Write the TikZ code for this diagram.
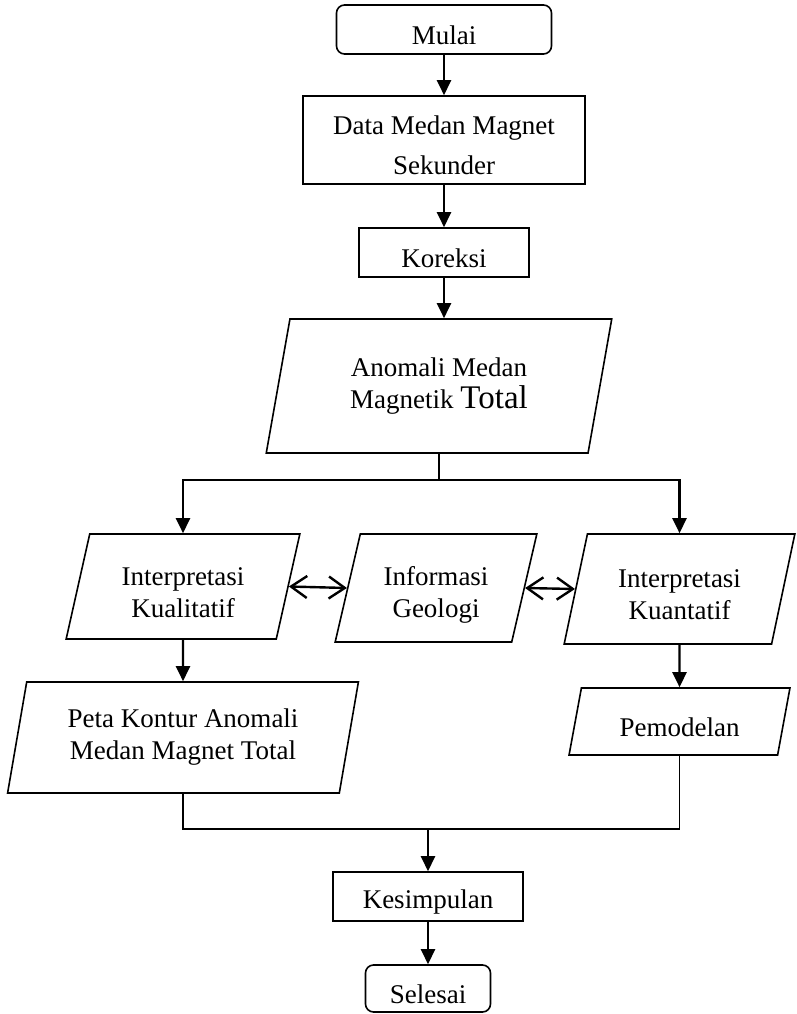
\documentclass[tikz,border=0pt]{standalone}
\usepackage{fontspec}
\setmainfont{Liberation Serif}
\usetikzlibrary{shapes.geometric,arrows.meta}
\tikzset{>={Triangle[length=15pt,width=14pt]}}

\begin{document}
\begin{tikzpicture}[x=1pt,y=-1pt,
  every node/.style={font=\fontsize{27}{32}\selectfont,align=center,line width=1.6pt},
  proc/.style={draw,rectangle,inner sep=0pt},
  term/.style={draw,rectangle,rounded corners=8pt,inner sep=0pt},
  io/.style={draw,trapezium,trapezium left angle=76,trapezium right angle=104,
    trapezium stretches=true,inner sep=0pt},
  flow/.style={->,line width=2.4pt},
  link/.style={line width=1.6pt},
  both/.style={{Straight Barb[length=16pt,width=22pt]}-{Straight Barb[length=16pt,width=22pt]},line width=2.4pt}]
\useasboundingbox (0,0) rectangle (797,1014);
% top column
\node[term,minimum width=215pt,minimum height=49pt] (mulai) at (444,29.5) {\rule{0pt}{30pt}Mulai};
\node[proc,minimum width=282pt,minimum height=88pt] (data) at (444,140) {\rule{0pt}{30pt}Data Medan Magnet\\[8pt]Sekunder};
\node[proc,minimum width=170pt,minimum height=49pt] (koreksi) at (444,252.5) {\rule{0pt}{30pt}Koreksi};
\node[io,minimum width=346pt,minimum height=134pt] (anomali) at (439,386) {Anomali Medan\\Magnetik {\fontsize{33}{33}\selectfont Total}};
% interpretation row
\node[io,minimum width=234pt,minimum height=105pt] (kual) at (183,586.5) {\rule{0pt}{30pt}Interpretasi\\Kualitatif};
\node[io,minimum width=202pt,minimum height=108pt] (geologi) at (436,588) {\rule{0pt}{32pt}Informasi\\Geologi};
\node[io,minimum width=231pt,minimum height=110pt] (kuan) at (679.5,589) {\rule{0pt}{30pt}Interpretasi\\Kuantatif};
\node[io,minimum width=352pt,minimum height=111pt] (peta) at (183,737.5) {Peta Kontur Anomali\\Medan Magnet Total};
\node[io,minimum width=221pt,minimum height=67pt] (model) at (679.5,721.5) {\rule{0pt}{30pt}Pemodelan};
% bottom column
\node[proc,minimum width=190pt,minimum height=49pt] (simpul) at (428,896.5) {\rule{0pt}{30pt}Kesimpulan};
\node[term,minimum width=125pt,minimum height=47pt] (selesai) at (428,988.5) {\rule{0pt}{30pt}Selesai};
\coordinate (split) at (439,480);
\coordinate (join) at (428,829);

\draw[flow] (mulai) -- (data);
\draw[flow] (data) -- (koreksi);
\draw[flow] (koreksi.south) -- (koreksi.south |- anomali.north);
\draw[link] (anomali.south) -- (split);
\draw[flow] (split) -| (kual.north);
\draw[flow] (split) -| (kuan.north);
\draw[both] (kual.east) -- (geologi.west);
\draw[both] (geologi.east) -- (kuan.west);
\draw[flow] (kual) -- (peta);
\draw[flow] (kuan) -- (model);
\draw[link] (peta.south) |- (join) -| (model.south);
\draw[flow] (join) -- (simpul);
\draw[flow] (simpul) -- (selesai);
\end{tikzpicture}
\end{document}
